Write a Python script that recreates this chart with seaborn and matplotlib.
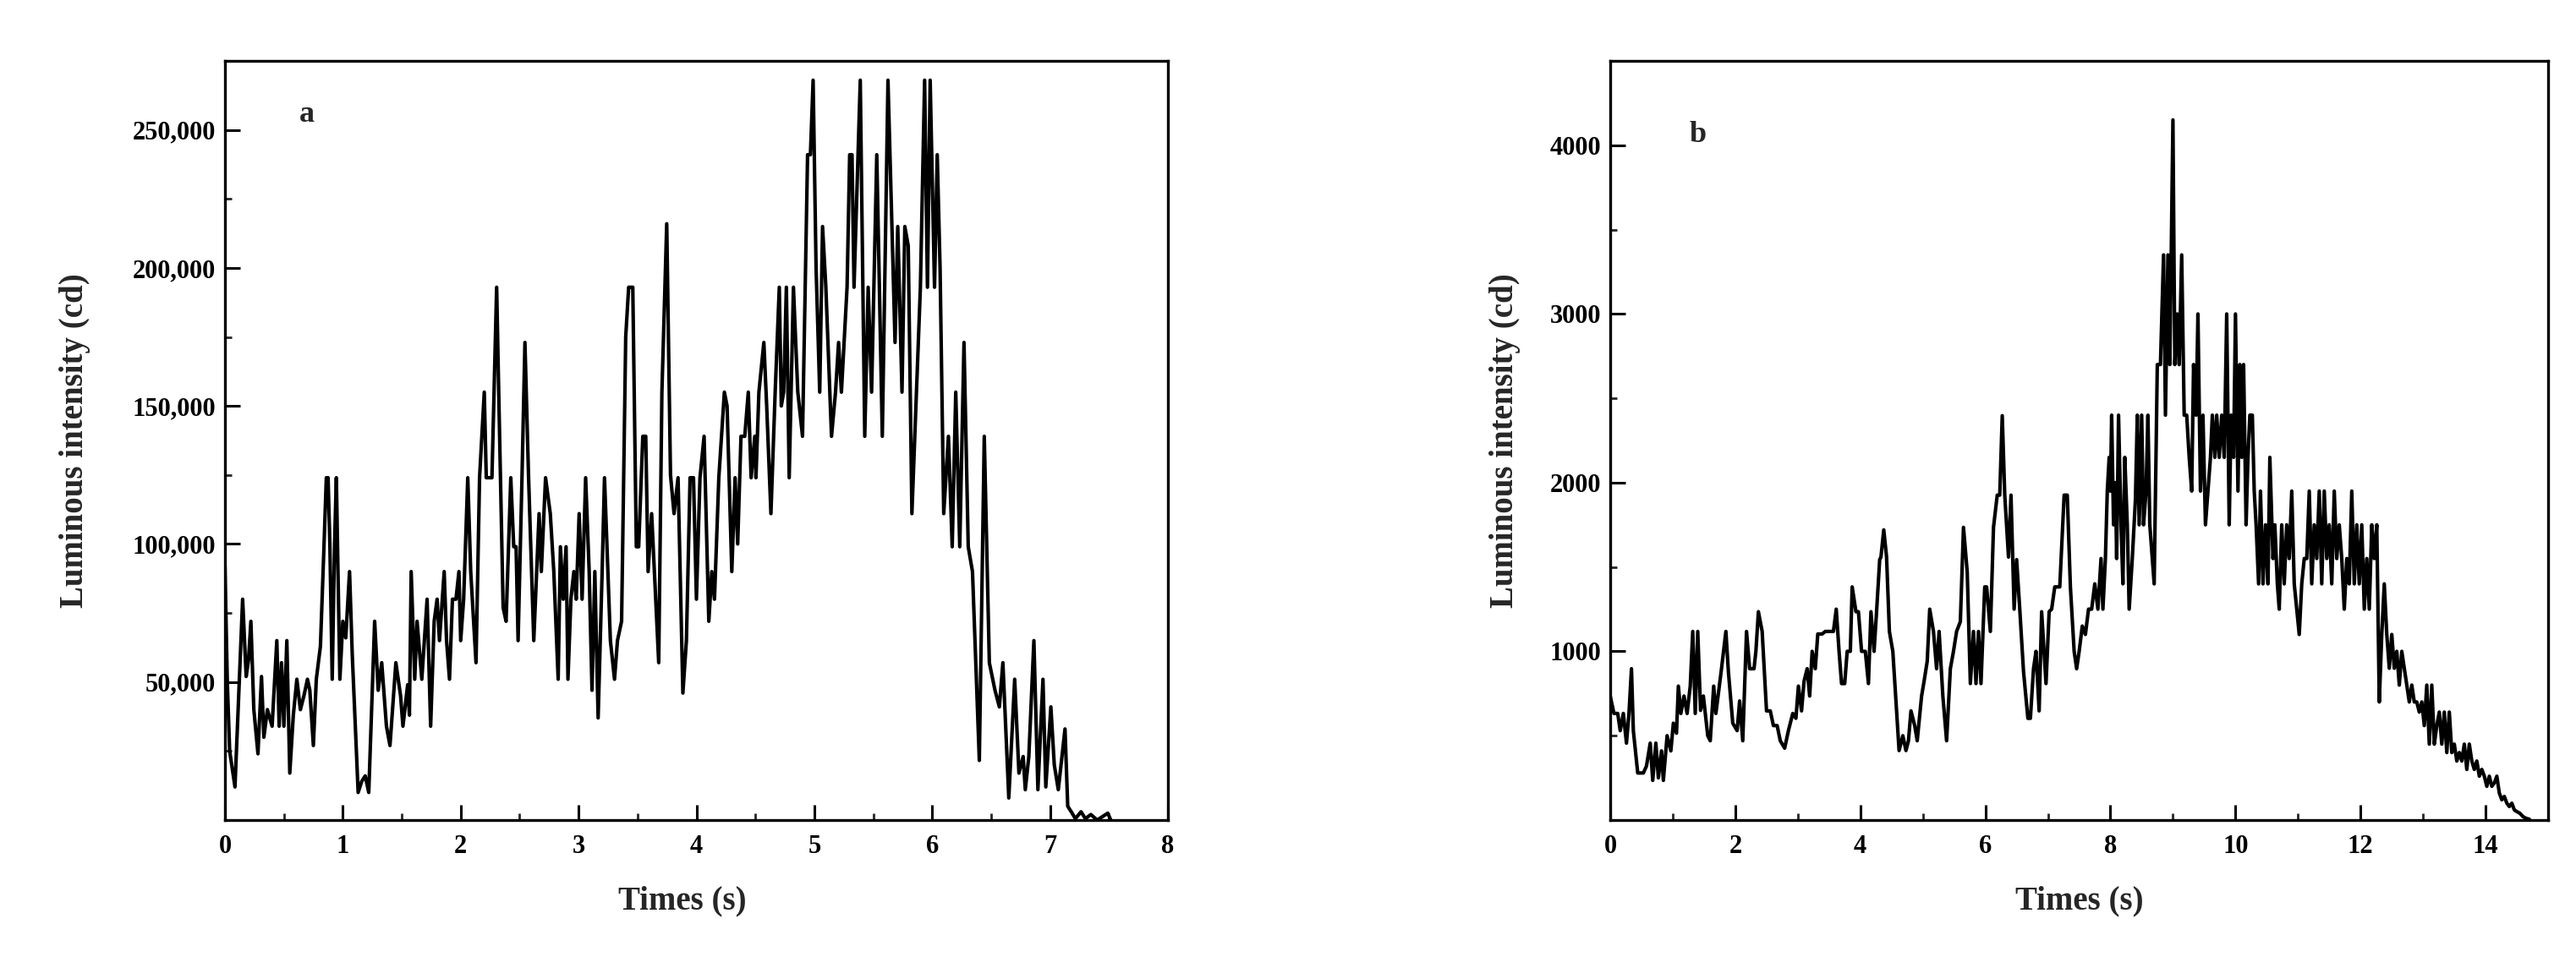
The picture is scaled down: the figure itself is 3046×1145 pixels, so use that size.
import matplotlib
matplotlib.use("Agg")
import matplotlib.pyplot as plt
import seaborn as sns
import pandas as pd
from matplotlib.ticker import MultipleLocator, FuncFormatter, FixedLocator

# ---------------- data ----------------
time_a = [0.00, 0.02, 0.04, 0.085, 0.15, 0.18, 0.20, 0.22, 0.245, 0.28, 0.31, 0.33, 0.36, 0.40,
          0.44, 0.46, 0.48, 0.50, 0.525, 0.55, 0.58, 0.61, 0.64, 0.67, 0.70, 0.72, 0.75, 0.775,
          0.81, 0.84, 0.86, 0.875, 0.89, 0.91, 0.93, 0.945, 0.975, 1.00, 1.025, 1.057, 1.08, 1.13,
          1.16, 1.19, 1.22, 1.27, 1.30, 1.33, 1.37, 1.40, 1.45, 1.49, 1.51, 1.55, 1.565, 1.58,
          1.61, 1.63, 1.67, 1.715, 1.745, 1.775, 1.80, 1.82, 1.86, 1.88, 1.905, 1.93, 1.96, 1.985,
          2.00, 2.025, 2.06, 2.085, 2.13, 2.16, 2.20, 2.217, 2.265, 2.305, 2.325, 2.36, 2.385,
          2.425, 2.45, 2.47, 2.487, 2.52, 2.545, 2.576, 2.62, 2.665, 2.684, 2.72, 2.76, 2.79,
          2.827, 2.846, 2.87, 2.894, 2.91, 2.935, 2.96, 2.98, 3.005, 3.03, 3.06, 3.09, 3.114,
          3.138, 3.166, 3.20, 3.22, 3.27, 3.305, 3.33, 3.365, 3.40, 3.425, 3.46, 3.49, 3.51,
          3.545, 3.57, 3.59, 3.62, 3.68, 3.707, 3.748, 3.78, 3.81, 3.844, 3.885, 3.915, 3.946,
          3.975, 4.00, 4.03, 4.065, 4.105, 4.13, 4.153, 4.19, 4.237, 4.26, 4.30, 4.328, 4.35,
          4.378, 4.41, 4.44, 4.464, 4.495, 4.505, 4.53, 4.572, 4.596, 4.632, 4.668, 4.703, 4.72,
          4.74, 4.763, 4.787, 4.823, 4.86, 4.90, 4.943, 4.967, 4.99, 5.015, 5.046, 5.07, 5.098,
          5.146, 5.18, 5.206, 5.23, 5.278, 5.30, 5.32, 5.337, 5.39, 5.428, 5.457, 5.486, 5.53,
          5.577, 5.625, 5.685, 5.708, 5.744, 5.768, 5.797, 5.828, 5.90, 5.936, 5.96, 5.983, 6.02,
          6.043, 6.067, 6.098, 6.138, 6.17, 6.20, 6.234, 6.27, 6.306, 6.342, 6.40, 6.442, 6.485,
          6.533, 6.57, 6.60, 6.65, 6.70, 6.736, 6.772, 6.79, 6.82, 6.863, 6.897, 6.94, 6.964,
          7.007, 7.036, 7.07, 7.127, 7.15, 7.18, 7.215, 7.263, 7.30, 7.346, 7.40, 7.49, 7.515]
intensity_a = [92000, 50000, 25000, 12000, 80000, 52000, 58000, 72000, 40000, 24000, 52000, 30000,
               40000, 34000, 65000, 34000, 57000, 34000, 65000, 17000, 38000, 51000, 40000, 45000,
               51000, 47000, 27000, 51000, 63000, 99000, 124000, 124000, 100000, 51000, 100000,
               124000, 51000, 72000, 66000, 90000, 60000, 10000, 14000, 16000, 10000, 72000, 47000,
               57000, 34000, 27000, 57000, 45000, 34000, 49000, 38000, 90000, 51000, 72000, 51000,
               80000, 34000, 72000, 80000, 65000, 90000, 65000, 51000, 80000, 80000, 90000, 65000,
               80000, 124000, 90000, 57000, 124000, 155000, 124000, 124000, 193000, 150000, 77000,
               72000, 124000, 99000, 99000, 65000, 124000, 173000, 124000, 65000, 111000, 90000,
               124000, 111000, 90000, 51000, 99000, 80000, 99000, 51000, 80000, 90000, 80000,
               111000, 80000, 124000, 90000, 47000, 90000, 37000, 90000, 124000, 65000, 51000,
               65000, 72000, 175000, 193000, 193000, 99000, 99000, 139000, 139000, 90000, 111000,
               57000, 155000, 216000, 125000, 111000, 124000, 46000, 65000, 124000, 124000, 80000,
               124000, 139000, 72000, 90000, 80000, 124000, 155000, 150000, 90000, 124000, 100000,
               139000, 139000, 155000, 124000, 139000, 124000, 155000, 173000, 150000, 111000,
               155000, 193000, 150000, 155000, 193000, 124000, 193000, 155000, 139000, 241000,
               241000, 268000, 200000, 155000, 215000, 193000, 139000, 155000, 173000, 155000,
               193000, 241000, 241000, 193000, 268000, 139000, 193000, 155000, 241000, 139000,
               268000, 173000, 215000, 155000, 215000, 208000, 111000, 193000, 268000, 193000,
               268000, 193000, 241000, 200000, 111000, 139000, 99000, 155000, 99000, 173000, 99000,
               90000, 21600, 139000, 57000, 47000, 41000, 57000, 8000, 51000, 17000, 23000, 11000,
               23000, 65000, 11000, 51000, 12000, 41000, 20000, 11000, 33000, 5000, 3000, 500,
               3000, 500, 2000, 0, 2500, 0]

time_b = [0.00, 0.06, 0.12, 0.16, 0.21, 0.26, 0.30, 0.34, 0.37, 0.44, 0.53, 0.58, 0.64, 0.68,
          0.73, 0.77, 0.82, 0.85, 0.91, 0.97, 1.01, 1.06, 1.09, 1.13, 1.18, 1.23, 1.28, 1.32,
          1.36, 1.40, 1.445, 1.49, 1.56, 1.60, 1.655, 1.69, 1.78, 1.85, 1.89, 1.96, 2.03, 2.07,
          2.12, 2.18, 2.23, 2.30, 2.33, 2.37, 2.43, 2.50, 2.56, 2.61, 2.67, 2.72, 2.79, 2.85,
          2.92, 2.97, 3.01, 3.06, 3.10, 3.15, 3.19, 3.23, 3.28, 3.32, 3.39, 3.44, 3.50, 3.57,
          3.615, 3.66, 3.70, 3.75, 3.79, 3.84, 3.87, 3.93, 3.97, 4.02, 4.08, 4.13, 4.17, 4.22,
          4.26, 4.31, 4.33, 4.375, 4.42, 4.465, 4.52, 4.56, 4.62, 4.68, 4.73, 4.77, 4.81, 4.87,
          4.91, 4.98, 5.02, 5.07, 5.11, 5.17, 5.22, 5.26, 5.32, 5.38, 5.44, 5.49, 5.54, 5.60,
          5.65, 5.71, 5.76, 5.81, 5.85, 5.89, 5.93, 5.99, 6.02, 6.08, 6.13, 6.19, 6.23, 6.27,
          6.31, 6.37, 6.41, 6.46, 6.50, 6.55, 6.61, 6.68, 6.72, 6.77, 6.81, 6.86, 6.90, 6.97,
          7.02, 7.06, 7.11, 7.19, 7.26, 7.31, 7.36, 7.42, 7.46, 7.50, 7.55, 7.60, 7.65, 7.70,
          7.75, 7.80, 7.85, 7.88, 7.92, 7.95, 7.98, 8.00, 8.02, 8.05, 8.08, 8.10, 8.13, 8.17,
          8.20, 8.23, 8.27, 8.30, 8.35, 8.40, 8.43, 8.46, 8.50, 8.53, 8.57, 8.60, 8.63, 8.67,
          8.70, 8.75, 8.80, 8.85, 8.88, 8.92, 8.95, 9.00, 9.03, 9.07, 9.10, 9.14, 9.18, 9.22,
          9.26, 9.30, 9.33, 9.37, 9.40, 9.44, 9.48, 9.52, 9.56, 9.60, 9.63, 9.67, 9.70, 9.74,
          9.78, 9.82, 9.86, 9.90, 9.93, 9.97, 10.00, 10.04, 10.07, 10.10, 10.13, 10.17, 10.20,
          10.23, 10.27, 10.30, 10.33, 10.37, 10.40, 10.44, 10.48, 10.52, 10.55, 10.60, 10.63,
          10.67, 10.70, 10.74, 10.78, 10.82, 10.86, 10.90, 10.94, 10.98, 11.02, 11.06, 11.10,
          11.14, 11.18, 11.22, 11.26, 11.30, 11.34, 11.38, 11.42, 11.46, 11.50, 11.54, 11.58,
          11.62, 11.66, 11.70, 11.74, 11.78, 11.82, 11.86, 11.90, 11.94, 11.98, 12.02, 12.06,
          12.10, 12.14, 12.18, 12.22, 12.26, 12.30, 12.34, 12.38, 12.42, 12.46, 12.50, 12.54,
          12.58, 12.62, 12.66, 12.70, 12.74, 12.78, 12.82, 12.86, 12.90, 12.94, 12.98, 13.02,
          13.06, 13.10, 13.14, 13.18, 13.22, 13.26, 13.30, 13.34, 13.38, 13.42, 13.46, 13.50,
          13.54, 13.58, 13.62, 13.66, 13.70, 13.74, 13.78, 13.82, 13.86, 13.90, 13.94, 13.98,
          14.02, 14.06, 14.10, 14.14, 14.18, 14.22, 14.26, 14.30, 14.34, 14.38, 14.42, 14.46,
          14.50, 14.55, 14.60, 14.65, 14.70]
intensity_b = [735, 632, 632, 530, 632, 456, 632, 897, 530, 279, 279, 320, 456, 235, 456, 250, 410,
               235, 500, 410, 574, 515, 794, 632, 735, 632, 794, 1118, 632, 1118, 650, 735, 500,
               470, 794, 632, 897, 1118, 880, 574, 530, 706, 470, 1118, 897, 897, 1000, 1235, 1118,
               647, 647, 560, 560, 470, 426, 530, 632, 603, 794, 647, 823, 897, 735, 1000, 897,
               1103, 1103, 1118, 1118, 1118, 1250, 1000, 809, 809, 1000, 1000, 1382, 1235, 1235,
               1000, 1000, 809, 1235, 1000, 1235, 1544, 1559, 1720, 1559, 1118, 1000, 765, 412,
               500, 412, 470, 647, 560, 470, 735, 823, 941, 1250, 1118, 897, 1118, 735, 470, 897,
               1000, 1118, 1176, 1735, 1470, 809, 1118, 809, 1118, 809, 1382, 1382, 1118, 1735,
               1926, 1926, 2397, 1926, 1559, 1926, 1250, 1544, 1250, 882, 603, 603, 897, 1000, 647,
               1235, 809, 1235, 1250, 1382, 1382, 1926, 1926, 1382, 1000, 897, 1000, 1150, 1100,
               1250, 1250, 1400, 1250, 1550, 1250, 1550, 1950, 2150, 1950, 2400, 1750, 2000, 1550,
               2400, 1750, 1400, 2150, 1750, 1250, 1550, 1900, 2400, 1750, 2400, 1750, 1950, 2400,
               1750, 1550, 1400, 2700, 2700, 3350, 2400, 3350, 2700, 4150, 2700, 3000, 2700, 3350,
               2400, 2400, 2150, 1950, 2700, 2400, 3000, 1950, 2400, 1750, 1950, 2150, 2400, 2150,
               2400, 2150, 2400, 2150, 3000, 1750, 2400, 2150, 3000, 1950, 2700, 2150, 2700, 1750,
               2150, 2400, 2400, 1950, 1750, 1400, 1950, 1400, 1750, 1400, 2150, 1550, 1750, 1400,
               1250, 1750, 1400, 1750, 1550, 1950, 1400, 1250, 1100, 1400, 1550, 1550, 1950, 1400,
               1750, 1550, 1950, 1400, 1950, 1550, 1750, 1400, 1950, 1550, 1750, 1550, 1250, 1550,
               1400, 1950, 1400, 1750, 1400, 1750, 1250, 1550, 1250, 1750, 1550, 1750, 700, 1100,
               1400, 1100, 900, 1100, 900, 1000, 800, 1000, 900, 800, 700, 800, 700, 700, 640, 700,
               560, 800, 450, 800, 450, 560, 640, 450, 640, 400, 640, 400, 450, 350, 400, 350, 450,
               300, 450, 350, 300, 350, 260, 300, 260, 200, 260, 200, 220, 260, 160, 120, 140, 100,
               80, 100, 60, 50, 40, 20, 10, 5]

xticks_a = [0, 1, 2, 3, 4, 5, 6, 7, 8]
yticks_a = [50000, 100000, 150000, 200000, 250000]
xticks_b = [0, 2, 4, 6, 8, 10, 12, 14]
yticks_b = [1000, 2000, 3000, 4000]
x_label = "Times (s)"
y_label = "Luminous intensity (cd)"
panel_labels = ["a", "b"]

# ---------------- style ----------------
sns.set_style("ticks")
plt.rcParams["font.family"] = ["Liberation Serif", "DejaVu Serif"]
plt.rcParams["font.weight"] = "bold"
plt.rcParams["axes.labelweight"] = "bold"

W, H = 3046, 1145
fig = plt.figure(figsize=(W / 100, H / 100), dpi=100)
fig.patch.set_facecolor("white")

top, bottom = 72, 970
ax_a = fig.add_axes([266 / W, 1 - bottom / H, (1381 - 266) / W, (bottom - top) / H])
ax_b = fig.add_axes([1904 / W, 1 - bottom / H, (3013 - 1904) / W, (bottom - top) / H])

df_a = pd.DataFrame({"t": time_a, "v": intensity_a})
df_b = pd.DataFrame({"t": time_b, "v": intensity_b})

sns.lineplot(data=df_a, x="t", y="v", ax=ax_a, color="black", linewidth=3.0,
             estimator=None, sort=False)
sns.lineplot(data=df_b, x="t", y="v", ax=ax_b, color="black", linewidth=3.0,
             estimator=None, sort=False)

ax_a.set_xlim(0, 8)
ax_a.set_ylim(0, 275000)
ax_b.set_xlim(0, 15)
ax_b.set_ylim(0, 4500)

ax_a.xaxis.set_major_locator(FixedLocator(xticks_a))
ax_a.xaxis.set_minor_locator(MultipleLocator(0.5))
ax_a.yaxis.set_major_locator(FixedLocator(yticks_a))
ax_a.yaxis.set_minor_locator(MultipleLocator(25000))
ax_a.yaxis.set_major_formatter(FuncFormatter(lambda v, p: f"{int(v):,}"))

ax_b.xaxis.set_major_locator(FixedLocator(xticks_b))
ax_b.xaxis.set_minor_locator(MultipleLocator(1))
ax_b.yaxis.set_major_locator(FixedLocator(yticks_b))
ax_b.yaxis.set_minor_locator(MultipleLocator(500))
ax_b.yaxis.set_major_formatter(FuncFormatter(lambda v, p: f"{int(v)}"))

for ax in (ax_a, ax_b):
    for s in ax.spines.values():
        s.set_visible(True)
        s.set_linewidth(2.4)
        s.set_color("black")
    ax.tick_params(which="major", direction="in", length=13, width=2.2,
                   labelsize=22, colors="black", top=False, right=False)
    ax.tick_params(which="minor", direction="in", length=6, width=2.0,
                   top=False, right=False)
    ax.tick_params(axis="x", which="major", pad=12)
    ax.tick_params(axis="y", which="major", pad=8)
    for lab in ax.get_xticklabels() + ax.get_yticklabels():
        lab.set_fontweight("bold")
    ax.set_xlabel(x_label, fontsize=28, fontweight="bold")
    ax.set_ylabel(y_label, fontsize=28, fontweight="bold")
    ax.grid(False)

ax_a.yaxis.set_label_coords(-0.1426, 0.5)
ax_b.yaxis.set_label_coords(-0.0956, 0.5)
ax_a.xaxis.set_label_coords(0.485, -0.0857)
ax_b.xaxis.set_label_coords(0.5, -0.0857)

ax_a.text(0.087, 0.929, panel_labels[0], transform=ax_a.transAxes, fontsize=26,
          fontweight="bold", ha="center", va="center")
ax_b.text(0.093, 0.903, panel_labels[1], transform=ax_b.transAxes, fontsize=26,
          fontweight="bold", ha="center", va="center")

fig.savefig("out.png", dpi=100, facecolor="white")
